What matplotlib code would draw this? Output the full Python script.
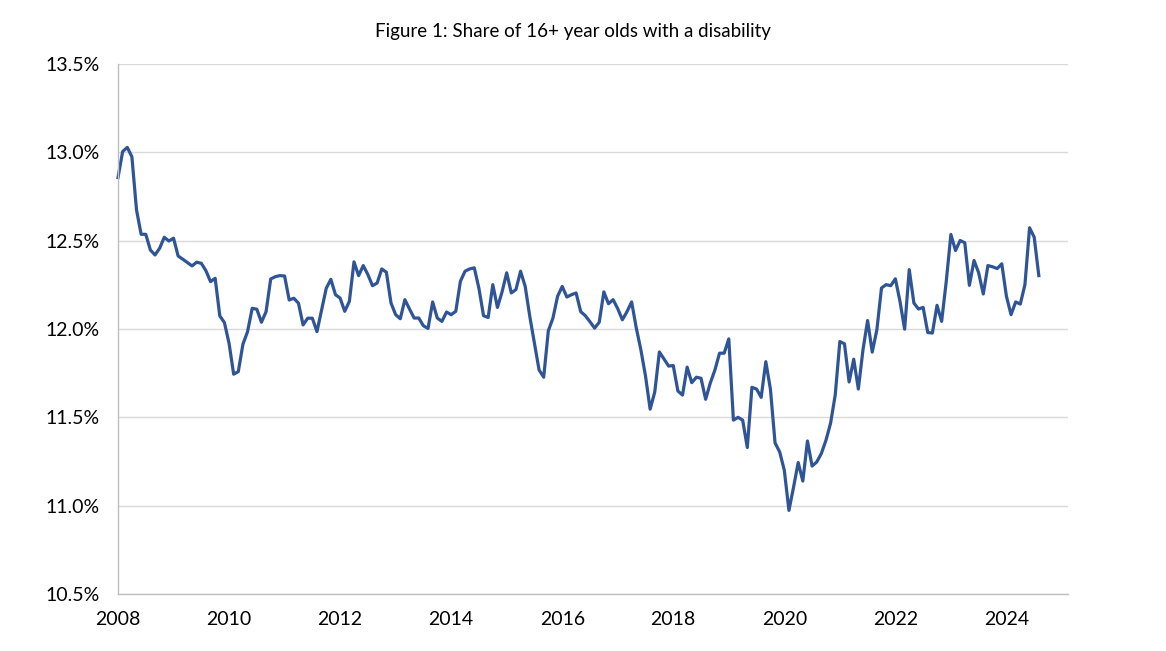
import numpy as np
import matplotlib
matplotlib.use("Agg")
import matplotlib.pyplot as plt
from matplotlib.ticker import FuncFormatter

plt.rcParams['font.family'] = ['Lato', 'DejaVu Sans']

# monthly share (%) of 16+ year olds with a disability, Jan 2008 - Aug 2024
start_year = 2008
share = [
    12.857, 13.004, 13.028, 12.975, 12.674, 12.536, 12.536, 12.447, 12.419, 12.457, 12.519, 12.498,
    12.514, 12.413, 12.395, 12.376, 12.357, 12.378, 12.372, 12.330, 12.268, 12.287, 12.074, 12.036,
    11.919, 11.744, 11.759, 11.914, 11.985, 12.117, 12.112, 12.038, 12.098, 12.283, 12.296, 12.302,
    12.300, 12.164, 12.174, 12.146, 12.023, 12.061, 12.061, 11.985, 12.108, 12.230, 12.281, 12.194,
    12.175, 12.100, 12.156, 12.380, 12.302, 12.359, 12.308, 12.245, 12.260, 12.340, 12.321, 12.147,
    12.081, 12.058, 12.166, 12.113, 12.062, 12.062, 12.018, 12.003, 12.153, 12.062, 12.043, 12.096,
    12.081, 12.100, 12.270, 12.327, 12.340, 12.346, 12.230, 12.075, 12.065, 12.251, 12.122, 12.210,
    12.318, 12.204, 12.223, 12.327, 12.241, 12.070, 11.920, 11.768, 11.727, 11.990, 12.062, 12.185,
    12.241, 12.181, 12.194, 12.204, 12.098, 12.075, 12.041, 12.005, 12.038, 12.210, 12.143, 12.166,
    12.115, 12.052, 12.098, 12.153, 12.007, 11.882, 11.734, 11.546, 11.643, 11.870, 11.830, 11.790,
    11.793, 11.649, 11.626, 11.784, 11.696, 11.727, 11.721, 11.602, 11.694, 11.768, 11.863, 11.863,
    11.944, 11.484, 11.500, 11.484, 11.329, 11.670, 11.660, 11.613, 11.815, 11.659, 11.355, 11.304,
    11.200, 10.973, 11.105, 11.244, 11.139, 11.366, 11.224, 11.247, 11.295, 11.370, 11.467, 11.626,
    11.929, 11.916, 11.700, 11.829, 11.660, 11.882, 12.048, 11.869, 11.995, 12.232, 12.251, 12.245,
    12.284, 12.156, 11.999, 12.336, 12.147, 12.113, 12.122, 11.980, 11.977, 12.134, 12.043, 12.270,
    12.535, 12.444, 12.501, 12.488, 12.247, 12.388, 12.318, 12.198, 12.359, 12.352, 12.342, 12.369,
    12.185, 12.081, 12.153, 12.141, 12.251, 12.573, 12.520, 12.302,
]
x_ticks = [2008, 2010, 2012, 2014, 2016, 2018, 2020, 2022, 2024]
y_ticks = [10.5, 11.0, 11.5, 12.0, 12.5, 13.0, 13.5]

months = start_year + np.arange(len(share)) / 12

fig = plt.figure(figsize=(11.66, 6.51), dpi=100)
ax = fig.add_axes([0.1012, 0.0876, 0.8148, 0.8141])

ax.plot(months, share, color='#2F5597', linewidth=2.3, clip_on=False)

ax.set_xlim(2008, 2025.11)
ax.set_ylim(10.5, 13.5)
ax.set_xticks(x_ticks)
ax.set_yticks(y_ticks)
ax.yaxis.set_major_formatter(FuncFormatter(lambda v, p: '%.1f%%' % v))

ax.grid(axis='y', color='#D9D9D9', linewidth=1)
ax.set_axisbelow(True)
for side in ['top', 'right']:
    ax.spines[side].set_visible(False)
for side in ['left', 'bottom']:
    ax.spines[side].set_color('#BFBFBF')
    ax.spines[side].set_linewidth(1)
ax.tick_params(length=0, labelsize=14, colors='black')
ax.tick_params(axis='y', pad=13)
ax.tick_params(axis='x', pad=12)

fig.text(0.491, 0.952, 'Figure 1: Share of 16+ year olds with a disability',
         ha='center', va='center', fontsize=13.5)

fig.savefig('out.png', dpi=100)
